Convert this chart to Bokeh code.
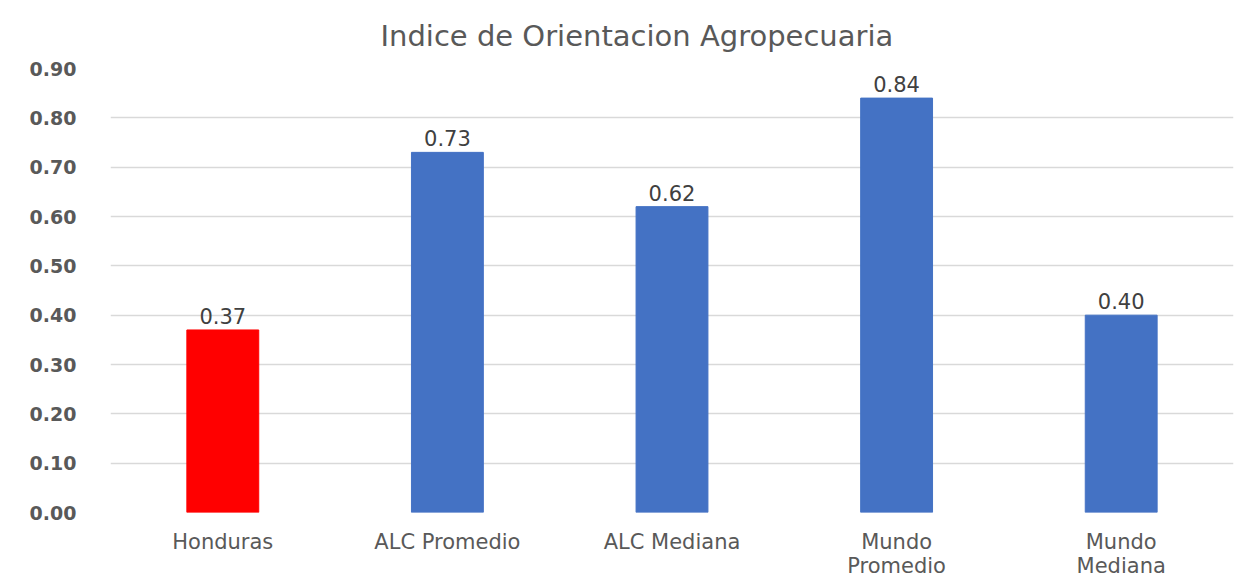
from bokeh.plotting import figure
from bokeh.models import ColumnDataSource, FactorRange, NumeralTickFormatter, FixedTicker
from bokeh.core.properties import value
from bokeh.embed import file_html
from bokeh.resources import INLINE

categories = ["Honduras", "ALC Promedio", "ALC Mediana", "Mundo\nPromedio", "Mundo\nMediana"]
values = [0.37, 0.73, 0.62, 0.84, 0.40]
colors = ["#FF0000", "#4472C4", "#4472C4", "#4472C4", "#4472C4"]
y_ticks = [0.0, 0.1, 0.2, 0.3, 0.4, 0.5, 0.6, 0.7, 0.8, 0.9]

FONT = "DejaVu Sans"
labels = [f"{v:.2f}" for v in values]
src = ColumnDataSource(dict(cat=categories, val=values, color=colors, label=labels))

p = figure(x_range=FactorRange(*categories), y_range=(0, 0.9),
           width=1250, height=580, output_backend="svg", toolbar_location=None,
           title="Indice de Orientacion Agropecuaria")
p.min_border_left = 110
p.min_border_right = 17
p.min_border_top = 68
p.min_border_bottom = 67

p.title.align = "left"
p.title.offset = 270
p.title.standoff = 32
p.title.text_font = FONT
p.title.text_font_size = "29px"
p.title.text_font_style = "normal"
p.title.text_color = "#595959"

p.vbar(x="cat", top="val", width=0.32, color="color", source=src)
p.text(x="cat", y="val", text="label", source=src, text_align="center", text_baseline="bottom",
       y_offset=-6, text_font=value(FONT), text_font_size="21px", text_color="#404040")

p.outline_line_color = None
p.xgrid.grid_line_color = None
p.ygrid.grid_line_color = "#D9D9D9"
p.ygrid.grid_line_width = 1.5
p.yaxis.ticker = FixedTicker(ticks=y_ticks)
p.yaxis.formatter = NumeralTickFormatter(format="0.00")
for ax in (p.xaxis, p.yaxis):
    ax.axis_line_color = None
    ax.major_tick_line_color = None
    ax.minor_tick_line_color = None
    ax.major_label_text_color = "#595959"
    ax.major_label_text_font = FONT
p.yaxis.major_label_text_font_size = "19px"
p.yaxis.major_label_text_font_style = "bold"
p.yaxis.major_label_standoff = 28
p.xaxis.major_label_text_font_size = "21px"
p.xaxis.major_label_text_line_height = 1.0
p.xaxis.major_label_standoff = 11

open("out.html", "w").write(file_html(p, INLINE))
